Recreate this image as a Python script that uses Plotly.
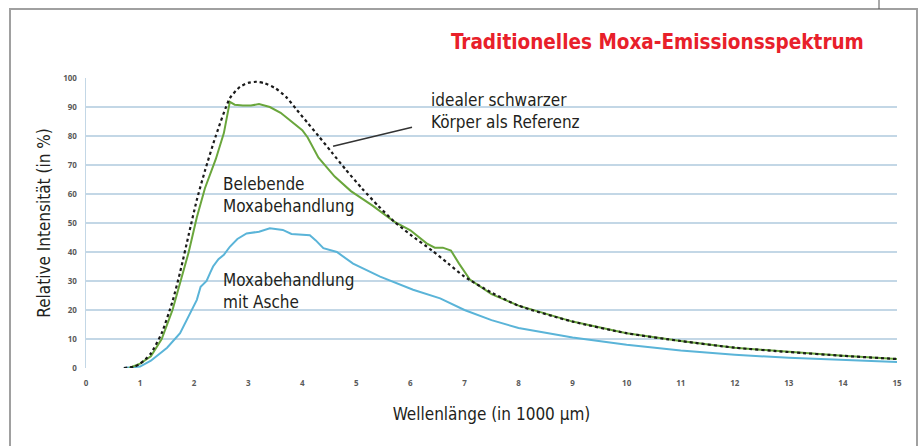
import plotly.graph_objects as go

# ---- data ----
ideal_x = [0.7, 0.9, 1.0, 1.1, 1.2, 1.4, 1.6, 1.74, 1.9, 2.05, 2.2, 2.4, 2.66, 2.85, 3.0, 3.16, 3.3, 3.5, 3.7, 3.9, 4.1,
           4.3, 4.54, 4.8, 5.1, 5.4, 5.7, 6.0, 6.4, 6.7, 7.0, 7.5, 8.0, 9.0, 10.0, 11.0, 12.0, 13.0, 14.0, 15.0]
ideal_y = [0, 0.5, 1.5, 3, 5, 12, 23, 33, 46, 58, 68, 80, 93, 97, 98.3, 98.7, 98.2, 96.5, 93.5, 89, 84.5,
           80, 74.5, 68.5, 62, 56, 50.5, 46, 40.5, 36, 31.5, 26, 21.5, 16, 12, 9.3, 7, 5.5, 4.2, 3.1]

green_x = [0.8, 1.0, 1.2, 1.4, 1.6, 1.74, 1.9, 2.05, 2.2, 2.4, 2.55, 2.66, 2.75, 2.9, 3.05, 3.2, 3.4, 3.6, 3.8, 4.0, 4.1,
           4.3, 4.6, 4.9, 5.3, 5.7, 6.0, 6.3, 6.45, 6.6, 6.75, 6.9, 7.1, 7.5, 8.0, 9.0, 10.0, 11.0, 12.0, 13.0, 14.0, 15.0]
green_y = [0, 1.5, 4, 10, 20, 29, 40, 52, 62, 72, 81, 91.8, 90.8, 90.5, 90.5, 91, 90, 88, 85, 82, 79.5,
           72.5, 66, 61, 56, 50.5, 47.5, 43, 41.5, 41.5, 40.5, 36, 30.5, 25.5, 21.5, 16, 12, 9.3, 7, 5.5, 4.2, 3.1]

blue_x = [0.7, 1.0, 1.2, 1.5, 1.74, 1.98, 2.05, 2.12, 2.23, 2.3, 2.35, 2.45, 2.55, 2.66, 2.8, 2.97, 3.2, 3.4, 3.64, 3.8,
          4.02, 4.14, 4.25, 4.39, 4.64, 4.94, 5.44, 6.05, 6.55, 7.0, 7.5, 8.0, 9.0, 10.0, 11.0, 12.0, 13.0, 14.0, 15.0]
blue_y = [0, 0.5, 2.5, 7, 12, 21, 23.5, 28, 30, 33, 35, 37.5, 39, 41.8, 44.5, 46.4, 47, 48.2, 47.6, 46.2,
          46, 45.8, 44, 41.3, 40, 36, 31.5, 27, 24, 20, 16.5, 13.8, 10.5, 8, 6, 4.6, 3.5, 2.7, 2.1]

x_ticks = list(range(0, 16))
y_ticks = list(range(0, 101, 10))

FONT = "DejaVu Sans Condensed, Liberation Sans Narrow, Roboto, sans-serif"
TEXT = "#231f20"
TICKFONT = dict(family="Open Sans, Liberation Sans, sans-serif", size=8, color="#5a5a5a")

fig = go.Figure()
fig.add_trace(go.Scatter(x=blue_x, y=blue_y, mode="lines", line=dict(color="#5ab4d8", width=2),
                         name="Moxabehandlung mit Asche", hoverinfo="skip"))
fig.add_trace(go.Scatter(x=green_x, y=green_y, mode="lines", line=dict(color="#6aa63c", width=2),
                         name="Belebende Moxabehandlung", hoverinfo="skip"))
fig.add_trace(go.Scatter(x=ideal_x, y=ideal_y, mode="lines",
                         line=dict(color="#1a1a1a", width=2.2, dash="dot", shape="spline", smoothing=0.6),
                         name="idealer schwarzer Körper", hoverinfo="skip"))

fig.update_layout(
    width=923, height=446, autosize=False,
    margin=dict(l=86, r=26, t=78, b=78, autoexpand=False),
    paper_bgcolor="white", plot_bgcolor="white",
    showlegend=False,
    font=dict(family=FONT, color=TEXT),
)
fig.update_xaxes(range=[0, 15], tickvals=x_ticks, ticktext=[f"<b>{v}</b>" for v in x_ticks],
                 showgrid=False, zeroline=False, showline=False, automargin=False,
                 tickfont=TICKFONT, ticklabelstandoff=9,
                 title=dict(text="Wellenlänge (in 1000 µm)", font=dict(family=FONT, size=17, color=TEXT), standoff=21))
fig.update_yaxes(range=[0, 100], tickvals=y_ticks, ticktext=[f"<b>{v}</b>" for v in y_ticks],
                 showgrid=True, gridcolor="#c3d7e6", gridwidth=1.5, zeroline=False,
                 showline=True, linecolor="#c3d7e6", linewidth=1.5, automargin=False,
                 tickfont=TICKFONT, ticklabelstandoff=6,
                 title=dict(text="Relative Intensität (in %)", font=dict(family=FONT, size=17, color=TEXT), standoff=8))

# title
fig.add_annotation(text="<b>Traditionelles Moxa-Emissionsspektrum</b>", xref="paper", yref="paper",
                   x=(866 - 86) / 811, y=(368 - 42) / 290, xanchor="right", yanchor="middle", showarrow=False,
                   font=dict(family=FONT, size=20.5, color="#e8202a"))

# curve labels
fig.add_annotation(text="idealer schwarzer<br>Körper als Referenz", x=6.35, y=96.5, xref="x", yref="y",
                   xanchor="left", yanchor="top", align="left", showarrow=False,
                   font=dict(family=FONT, size=17, color=TEXT))
fig.add_annotation(text="Belebende<br>Moxabehandlung", x=2.5, y=67.5, xref="x", yref="y",
                   xanchor="left", yanchor="top", align="left", showarrow=False,
                   font=dict(family=FONT, size=17, color=TEXT))
fig.add_annotation(text="Moxabehandlung<br>mit Asche", x=2.5, y=34.5, xref="x", yref="y",
                   xanchor="left", yanchor="top", align="left", showarrow=False,
                   font=dict(family=FONT, size=17, color=TEXT))
fig.add_shape(type="line", xref="x", yref="y", x0=4.57, y0=76.5, x1=6.03, y1=83,
              line=dict(color="#333333", width=1.5))

# outer frame
fig.add_shape(type="rect", xref="paper", yref="paper",
              x0=-76 / 811, x1=831 / 811, y0=-0.3, y1=(368 - 9) / 290,
              line=dict(color="#a0a0a0", width=2), layer="below")
fig.add_shape(type="line", xref="paper", yref="paper",
              x0=(879 - 86) / 811, x1=(879 - 86) / 811, y0=(368 - 9) / 290, y1=368 / 290,
              line=dict(color="#555555", width=1))

fig.write_html("out.html", config={"displayModeBar": False, "staticPlot": True},
               post_script="document.body.style.margin='0';document.body.style.overflow='hidden';")
